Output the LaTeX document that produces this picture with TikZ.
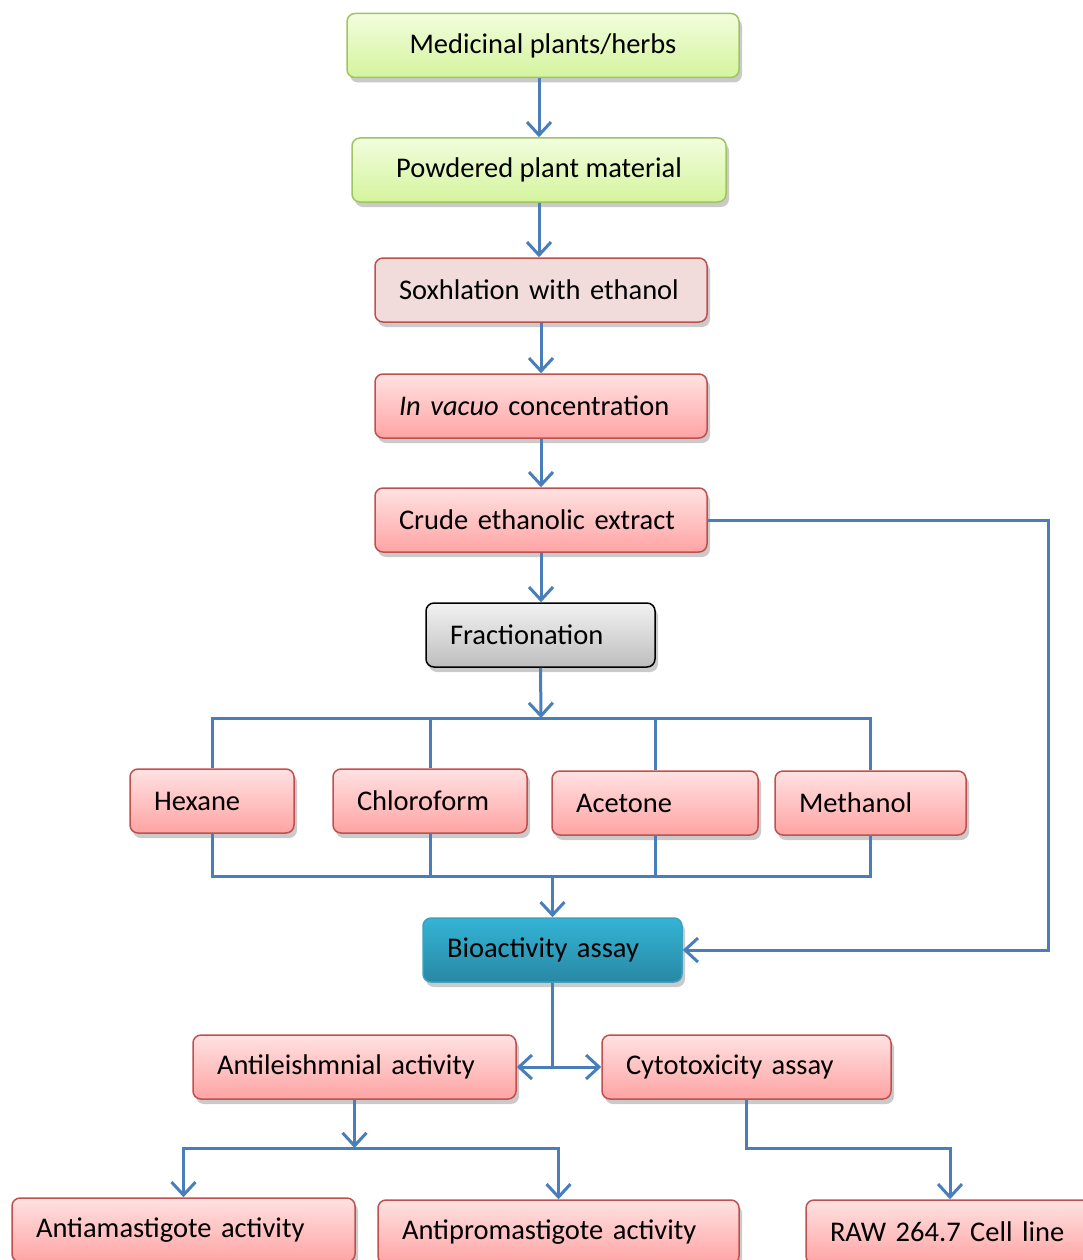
\documentclass[tikz,border=0pt]{standalone}
\usepackage{fontspec}
\setmainfont{Carlito}
\usetikzlibrary{arrows.meta,shadows,calc}
\definecolor{lnblue}{RGB}{74,126,187}
\definecolor{grtop}{RGB}{242,253,222}
\definecolor{grbot}{RGB}{212,244,156}
\definecolor{grbd}{RGB}{160,196,96}
\definecolor{pktop}{RGB}{255,226,226}
\definecolor{pkbot}{RGB}{255,163,163}
\definecolor{pkbd}{RGB}{192,80,77}
\definecolor{pkflat}{RGB}{242,220,219}
\definecolor{gytop}{RGB}{242,242,242}
\definecolor{gybot}{RGB}{190,190,190}
\definecolor{tltop}{RGB}{52,180,214}
\definecolor{tlbot}{RGB}{40,136,164}
\definecolor{tlbd}{RGB}{60,160,190}
\tikzset{
  box/.style={rounded corners=8pt, line width=1.5pt, inner ysep=0pt, minimum height=64pt,
    font=\fontsize{28.5}{32}\selectfont,
    drop shadow={shadow xshift=3pt, shadow yshift=-5pt, opacity=0.35, fill=black!60}},
  greenbox/.style={box, draw=grbd, top color=grtop, bottom color=grbot},
  pinkbox/.style={box, draw=pkbd, top color=pktop, bottom color=pkbot},
  flatbox/.style={box, draw=pkbd, fill=pkflat},
  graybox/.style={box, draw=black, top color=gytop, bottom color=gybot},
  tealbox/.style={box, draw=tlbd, top color=tltop, bottom color=tlbot},
  lbox/.style={align=left, inner xsep=24pt, text width=#1},
  conn/.style={draw=lnblue, line width=3pt},
  arr/.style={conn, -{Straight Barb[length=13pt,width=24pt,line width=3pt]}}
}
\begin{document}
\begin{tikzpicture}[x=1pt,y=-1pt]
\useasboundingbox (0,0) rectangle (1083,1260);
\node[greenbox, minimum width=392pt] (n1) at (543,45.5) {Medicinal plants/herbs};
\node[greenbox, minimum width=374pt] (n2) at (539,170) {Powdered plant material};
\node[flatbox, lbox=284pt] (n3) at (541,290) {Soxhlation with ethanol};
\node[pinkbox, lbox=284pt] (n4) at (541,406) {\textit{In vacuo} concentration};
\node[pinkbox, lbox=284pt] (n5) at (541,520) {Crude ethanolic extract};
\node[graybox, lbox=181pt] (n6) at (540.5,635) {Fractionation};
\node[pinkbox, lbox=116pt] (hex) at (212,801) {Hexane};
\node[pinkbox, lbox=146pt] (chl) at (430,801) {Chloroform};
\node[pinkbox, lbox=158pt] (ace) at (655,803) {Acetone};
\node[pinkbox, lbox=143pt] (met) at (870.5,803) {Methanol};
\node[tealbox, lbox=211pt] (bio) at (552.5,950) {Bioactivity assay};
\node[pinkbox, lbox=275pt] (ant) at (354.5,1067) {Antileishmnial activity};
\node[pinkbox, lbox=241pt] (cyt) at (746.5,1067) {Cytotoxicity assay};
\node[pinkbox, lbox=295pt] (ama) at (183.5,1230) {Antiamastigote activity};
\node[pinkbox, lbox=313pt] (pro) at (558.5,1232) {Antipromastigote activity};
\node[pinkbox, lbox=240pt] (raw) at (950,1232) {RAW 264.7 Cell line};
\coordinate (j1) at (541,718);
\coordinate (j2) at (552.5,876);
\coordinate (j3) at (552.5,1067);
\coordinate (j4) at (354.5,1148);
\coordinate (j5) at (746.5,1148);
\coordinate (rt) at (1048,0);
\draw[arr] (n2.north |- n1.south) -- (n2.north);
\draw[arr] (n2.south) -- (n3.north -| n2.south);
\draw[arr] (n3) -- (n4);
\draw[arr] (n4) -- (n5);
\draw[arr] (n5.south) -- (n6.north -| n5.south);
\draw[arr] (n6.south) -- (j1);
\draw[conn] (hex.north) -- (hex.north |- j1) -- (met.north |- j1) -- (met.north);
\draw[conn] (chl.north) -- (chl.north |- j1);
\draw[conn] (ace.north) -- (ace.north |- j1);
\draw[conn] (hex.south) -- (hex.south |- j2) -- (met.south |- j2) -- (met.south);
\draw[conn] (chl.south) -- (chl.south |- j2);
\draw[conn] (ace.south) -- (ace.south |- j2);
\draw[arr] (j2) -- (bio.north);
\draw[arr] (n5.east) -- (n5.east -| rt) |- (bio.east);
\draw[conn] (bio.south) -- (j3);
\draw[arr] (j3) -- (ant.east);
\draw[arr] (j3) -- (cyt.west);
\draw[arr] (ant.south) -- (j4);
\draw[arr] (j4) -| (ama.north);
\draw[arr] (j4) -| (pro.north);
\draw[arr] (cyt.south) -- (j5) -| (raw.north);
\end{tikzpicture}
\end{document}
